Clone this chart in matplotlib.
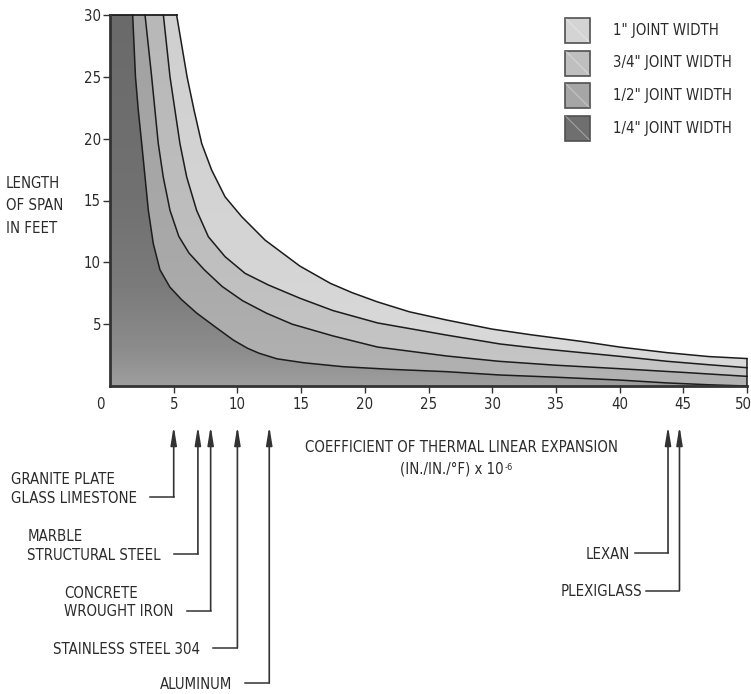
import os
import numpy as np
import matplotlib
matplotlib.use("Agg")
import matplotlib.pyplot as plt
from matplotlib import font_manager as fm
from matplotlib.patches import Polygon, Rectangle
from matplotlib.lines import Line2D
from matplotlib.transforms import ScaledTranslation, blended_transform_factory

# ---- data: maximum span (ft) vs. coefficient of expansion, per joint width ----
coef_quarter = [1.78, 2.0, 2.22, 2.49, 2.75, 3.01, 3.4, 3.92, 4.7, 5.6, 6.8, 8.3, 9.7,
                10.8, 11.7, 13.1, 15.2, 18.3, 22.0, 26.4, 30.6, 34.8, 40.0, 43.7, 47.0, 50.0]
span_quarter = [30, 25, 22.3, 19.6, 16.9, 14.2, 11.5, 9.4, 8.0, 7.0, 5.9, 4.75, 3.7,
                3.05, 2.65, 2.2, 1.88, 1.56, 1.35, 1.16, 0.89, 0.72, 0.48, 0.25, 0.1, 0.0]

coef_half = [2.75, 3.27, 3.53, 3.79, 4.18, 4.71, 5.4, 6.2, 7.4, 8.8, 10.4, 12.3, 14.3,
             17.5, 21.0, 26.4, 30.5, 35.0, 40.0, 45.0, 50.0]
span_half = [30, 25, 22.3, 19.6, 16.9, 14.2, 12.1, 10.75, 9.4, 8.05, 6.9, 5.88, 5.0,
             4.05, 3.15, 2.43, 2.0, 1.68, 1.4, 1.1, 0.78]

coef_threeq = [4.19, 4.71, 5.10, 5.49, 6.02, 6.80, 7.72, 9.03, 10.6, 12.43, 14.9, 17.5,
               21.0, 26.4, 30.6, 34.0, 37.2, 40.0, 43.7, 47.0, 50.0]
span_threeq = [30, 25, 22.3, 19.6, 16.9, 14.2, 12.07, 10.46, 9.11, 8.17, 7.1, 6.1,
               5.1, 4.12, 3.4, 3.0, 2.68, 2.4, 2.0, 1.72, 1.48]

coef_one = [5.23, 6.05, 6.6, 7.2, 7.98, 9.03, 10.34, 12.17, 14.9, 17.3, 19.0, 21.0, 23.5,
            26.4, 30.0, 33.0, 37.2, 40.0, 43.7, 47.0, 50.0]
span_one = [30, 25, 22.3, 19.6, 17.46, 15.3, 13.69, 11.8, 9.7, 8.3, 7.55, 6.8, 6.0,
            5.34, 4.6, 4.15, 3.58, 3.15, 2.7, 2.38, 2.22]

legend_labels = ['1" JOINT WIDTH', '3/4" JOINT WIDTH', '1/2" JOINT WIDTH', '1/4" JOINT WIDTH']

material_names = ["GRANITE PLATE\nGLASS LIMESTONE", "MARBLE\nSTRUCTURAL STEEL",
                  "CONCRETE\nWROUGHT IRON", "STAINLESS STEEL 304", "ALUMINUM",
                  "LEXAN", "PLEXIGLASS"]
material_coefs = [5.0, 6.9, 7.9, 10.0, 12.5, 43.8, 44.7]

x_ticks = [0, 5, 10, 15, 20, 25, 30, 35, 40, 45, 50]
y_ticks = [5, 10, 15, 20, 25, 30]

# ---- layout ----
W, H, DPI = 751, 694, 100
INK = "#2b2b2b"


def choose_font_file():
    """Prefer a narrow / condensed sans face; fall back to Liberation Sans."""
    entries = fm.fontManager.ttflist
    wanted = ['liberationsansnarrow-regular', 'dejavusanscondensed.', 'notosans-condensedlight.',
              'notosans-condensed.', 'robotocondensed-light', 'robotocondensed-regular',
              'roboto_condensed-regular', 'opensans-condensedlight', 'opensans_condensed-light',
              'opensans-condensedregular', 'opensans_condensed-regular']
    for w in wanted:
        for e in entries:
            if w in os.path.basename(e.fname).lower():
                return e.fname
    for e in entries:
        if (str(e.stretch) in ('condensed', 'semi-condensed') and e.style == 'normal'
                and str(e.weight) in ('300', '400', 'normal', 'regular', 'book', 'light')):
            return e.fname
    return fm.findfont(fm.FontProperties(family='Liberation Sans'))


FONT_FILE = choose_font_file()


def fx(px):
    return px / W


def fy(py):
    return 1 - py / H


fig = plt.figure(figsize=(W / DPI, H / DPI), dpi=DPI)
renderer = fig.canvas.get_renderer()

# size the face so a reference string spans the intended width
probe = fig.text(0, 0, "STAINLESS STEEL 304",
                 fontproperties=fm.FontProperties(fname=FONT_FILE, size=11.5))
probe_w = probe.get_window_extent(renderer).width
probe.remove()
FS = float(np.clip(11.5 * 146.0 / probe_w, 9.5, 12.5))


def fp(size=None):
    return fm.FontProperties(fname=FONT_FILE, size=size or FS)


ax = fig.add_axes([fx(110), fy(386), (747 - 110) / W, (386 - 15) / H])
ax.set_xlim(0, 50)
ax.set_ylim(0, 30)

# shaded bands, widest joint first; each band is a vertical gray ramp
bands = [
    (coef_one, span_one, [(0, 0xdb), (10, 0xd5), (30, 0xd0)]),
    (coef_threeq, span_threeq, [(0, 0xc7), (10, 0xbf), (30, 0xb8)]),
    (coef_half, span_half, [(0, 0xb2), (10, 0xa9), (30, 0xa2)]),
    (coef_quarter, span_quarter, [(0, 0x9e), (3, 0x8c), (8, 0x7b), (15, 0x71), (30, 0x6a)]),
]
yy = np.linspace(0, 30, 400)
for z, (xs, ys, stops) in enumerate(bands):
    verts = [(0, 0), (0, 30)] + list(zip(xs, ys)) + [(50, 0)]
    poly = Polygon(verts, closed=True, transform=ax.transData)
    sy, sv = zip(*stops)
    g = np.interp(yy, sy, sv) / 255.0
    img = np.stack([g, g, g], axis=-1).reshape(len(yy), 1, 3)
    im = ax.imshow(img, extent=(0, 50, 0, 30), origin='lower', aspect='auto',
                   interpolation='bilinear', zorder=1 + z * 0.01)
    im.set_clip_path(poly)

for xs, ys in [(coef_quarter, span_quarter), (coef_half, span_half),
               (coef_threeq, span_threeq), (coef_one, span_one)]:
    ax.plot(xs, ys, color="#1c1c1c", lw=1.1, zorder=3, clip_on=False,
            solid_joinstyle='round')

# top and right edges of the shaded area
ax.plot([0, coef_one[0]], [30, 30], color="#1c1c1c", lw=1.3, zorder=3, clip_on=False)
ax.plot([50, 50], [0, span_one[-1]], color="#1c1c1c", lw=1.1, zorder=3, clip_on=False)

for s in ['top', 'right']:
    ax.spines[s].set_visible(False)
for s in ['left', 'bottom']:
    ax.spines[s].set_linewidth(2.0)
    ax.spines[s].set_color("#333333")
    ax.spines[s].set_zorder(4)

ax.set_xticks(x_ticks)
ax.set_yticks(y_ticks)
ax.set_xticklabels([str(v) for v in x_ticks], fontproperties=fp(), color=INK)
ax.set_yticklabels([str(v) for v in y_ticks], fontproperties=fp(), color=INK)
ax.tick_params(axis='both', direction='out', length=5, width=1.0, color="#333333")
ax.tick_params(axis='x', pad=3)
ax.tick_params(axis='y', pad=1.5)
ax.xaxis.get_major_ticks()[0].tick1line.set_visible(False)
xlabels = ax.get_xticklabels()
xlabels[0].set_transform(xlabels[0].get_transform()
                         + ScaledTranslation(-10 / DPI, 0, fig.dpi_scale_trans))
xlabels[-1].set_transform(xlabels[-1].get_transform()
                          + ScaledTranslation(-4 / DPI, 0, fig.dpi_scale_trans))

# axis titles
fig.text(fx(6), fy(206), "LENGTH\nOF SPAN\nIN FEET", ha='left', va='center',
         fontproperties=fp(), color=INK, linespacing=1.65)
fig.text(fx(461), fy(448), "COEFFICIENT OF THERMAL LINEAR EXPANSION", ha='center',
         va='center', fontproperties=fp(), color=INK)
unit = fig.text(fx(452), fy(469), "(IN./IN./°F) x 10", ha='center', va='center',
                fontproperties=fp(), color=INK)
ub = unit.get_window_extent(renderer)
fig.text((ub.x1 + 1) / W, (ub.y1 - 1) / H, "-6", ha='left', va='top',
         fontproperties=fp(FS * 0.62), color=INK)

# legend swatches
legend_colors = ["#d4d4d4", "#bfbfbf", "#a6a6a6", "#6f6f6f"]
sw = 25
for i, (lab, col) in enumerate(zip(legend_labels, legend_colors)):
    top = 18 + i * 32.5
    rect = Rectangle((fx(565), fy(top + sw)), sw / W, sw / H, transform=fig.transFigure,
                     facecolor=col, edgecolor="#505050", lw=1.2)
    fig.add_artist(rect)
    fig.add_artist(Line2D([fx(566), fx(565 + sw - 1)], [fy(top + 1), fy(top + sw - 1)],
                          transform=fig.transFigure, color="white", alpha=0.35, lw=0.8))
    fig.text(fx(613), fy(top + sw / 2), lab, ha='left', va='center',
             fontproperties=fp(), color=INK)

# material call-outs: arrow up to the coefficient, leader out to the label
leader_rows = [497, 554, 610.5, 648, 683, 553, 590.5]
leader_len = [24, 24, 24, 24, 24, 33, 33]
label_gap = [13, 13, 13, 13, 13, 5, 4]
blend = blended_transform_factory(ax.transData, fig.transFigure)
tip_y = 426
for name, c, row, ll, gap in zip(material_names, material_coefs, leader_rows,
                                 leader_len, label_gap):
    ax.annotate('', xy=(c, fy(tip_y)), xycoords=blend, xytext=(c, fy(row)),
                textcoords=blend, annotation_clip=False,
                arrowprops=dict(arrowstyle='-|>,head_length=1.1,head_width=0.18',
                                color="#333333", lw=1.2, shrinkA=0, shrinkB=0))
    xp = ax.transData.transform((c, 0))[0]
    fig.add_artist(Line2D([fx(xp - ll), fx(xp)], [fy(row), fy(row)],
                          transform=fig.transFigure, color="#333333", lw=1.1))
    fig.text(fx(xp - ll - gap), fy(row + 9), name, ha='right', va='bottom',
             multialignment='left', fontproperties=fp(), color=INK, linespacing=1.3)

fig.savefig("out.png", dpi=DPI)
